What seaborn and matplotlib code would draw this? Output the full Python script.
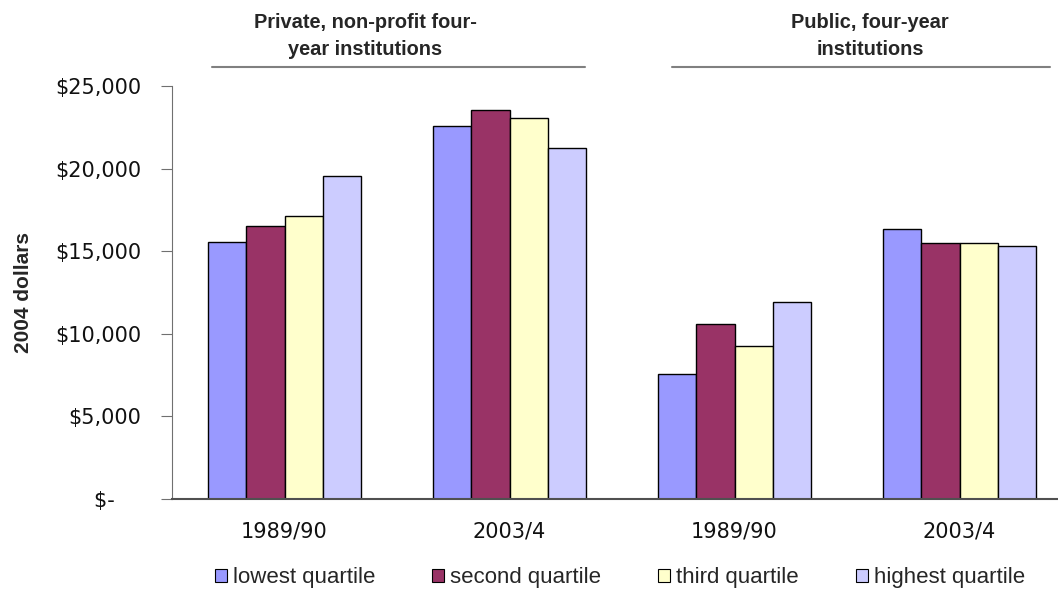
import pandas as pd
import matplotlib
matplotlib.use("Agg")
import matplotlib.pyplot as plt
from matplotlib.patches import Patch
from matplotlib.lines import Line2D
import seaborn as sns

# data (2004 dollars)
groups = ["Private 1989/90", "Private 2003/4", "Public 1989/90", "Public 2003/4"]
tick_labels = ["1989/90", "2003/4", "1989/90", "2003/4"]
quartiles = ["lowest quartile", "second quartile", "third quartile", "highest quartile"]
lowest = [15550, 22600, 7550, 16350]
second = [16500, 23550, 10600, 15500]
third = [17150, 23050, 9250, 15500]
highest = [19550, 21250, 11900, 15300]
colors = ["#9999FF", "#993366", "#FFFFCC", "#CCCCFF"]
y_ticks = [0, 5000, 10000, 15000, 20000, 25000]
y_tick_labels = ["$-    ", "$5,000", "$10,000", "$15,000", "$20,000", "$25,000"]
headers = ["Private, non-profit four-\nyear institutions", "Public, four-year\ninstitutions"]

rows = []
for q, vals in zip(quartiles, [lowest, second, third, highest]):
    for g, v in zip(groups, vals):
        rows.append({"group": g, "quartile": q, "value": v})
df = pd.DataFrame(rows)

sns.set_style("white")
plt.rcParams["font.family"] = ["Liberation Sans", "DejaVu Sans"]

fig = plt.figure(figsize=(10.58, 5.92), dpi=100)
ax = fig.add_axes([172 / 1058, 1 - 499 / 592, 900 / 1058, (499 - 86) / 592])

sns.barplot(data=df, x="group", y="value", hue="quartile", order=groups,
            hue_order=quartiles, palette=colors, saturation=1, width=0.68,
            edgecolor="black", linewidth=1, ax=ax, legend=False)

ax.set_xlim(-0.5, 3.5)
ax.set_ylim(0, 25000)
ax.set_yticks(y_ticks)
ax.set_yticklabels(y_tick_labels, fontsize=15, family="DejaVu Sans", color="#111111")
ax.set_xticks(range(4))
ax.set_xticklabels(tick_labels, fontsize=15, family="DejaVu Sans", color="#111111")
ax.set_xticks([-0.5, 0.5, 1.5, 2.5, 3.5], minor=True)
ax.tick_params(axis="x", which="major", length=0, pad=16)
ax.tick_params(axis="x", which="minor", length=7, color="#707070", direction="out")
ax.tick_params(axis="y", length=8, color="#707070", direction="out", left=True, pad=14)
ax.set_xlabel("")
ax.set_ylabel("2004 dollars", fontsize=15, fontweight="bold", labelpad=16)
for s in ["top", "right"]:
    ax.spines[s].set_visible(False)
ax.spines["left"].set_color("#707070")
ax.spines["bottom"].set_color("#505050")
ax.spines["bottom"].set_linewidth(1.5)

# group headers with rules beneath
fig.text(365 / 1058, 1 - 36 / 592, headers[0], ha="center", va="center",
         fontsize=14.4, fontweight="bold", linespacing=1.55)
fig.text(870 / 1058, 1 - 36 / 592, headers[1], ha="center", va="center",
         fontsize=14.4, fontweight="bold", linespacing=1.55)
fig.add_artist(Line2D([212 / 1058, 585 / 1058], [1 - 67 / 592] * 2, color="#808080", lw=1.5))
fig.add_artist(Line2D([672 / 1058, 1050 / 1058], [1 - 67 / 592] * 2, color="#808080", lw=1.5))

handles = [Patch(facecolor=c, edgecolor="black", linewidth=0.8) for c in colors]
fig.legend(handles, quartiles, loc="center", bbox_to_anchor=(620 / 1058, 1 - 578 / 592),
           ncol=4, frameon=False, fontsize=16, handlelength=0.55, handleheight=0.55,
           handletextpad=0.27, columnspacing=2.55)

fig.savefig("out.png", dpi=100)
